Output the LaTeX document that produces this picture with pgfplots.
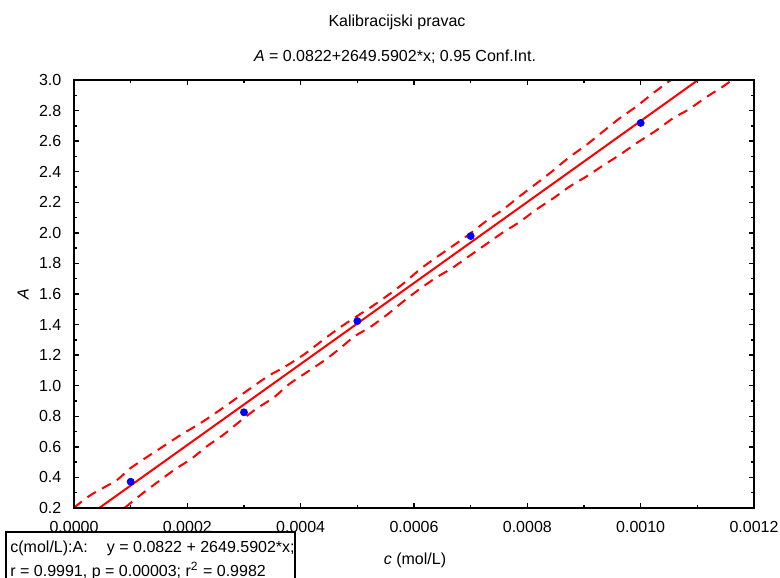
\documentclass[border=0pt]{standalone}
\usepackage{fontspec}
\setmainfont{Liberation Sans}
\usepackage{pgfplots}
\pgfplotsset{compat=1.18}
\begin{document}
\begin{tikzpicture}[font=\fontsize{8}{9.6}\selectfont]
\useasboundingbox (0,0) rectangle (390pt,288.5pt);
\begin{axis}[
  at={(37pt,34.5pt)}, anchor=south west,
  width=340pt, height=214pt, scale only axis,
  xmin=0, xmax=0.0012, ymin=0.2, ymax=3.0,
  xtick={0,0.0002,0.0004,0.0006,0.0008,0.0010,0.0012},
  ytick={0.2,0.4,0.6,0.8,1.0,1.2,1.4,1.6,1.8,2.0,2.2,2.4,2.6,2.8,3.0},
  minor x tick num=1, minor y tick num=1,
  tick align=inside, tick pos=both,
  xticklabel pos=left, yticklabel pos=left,
  major tick length=2.4pt, minor tick length=1.3pt,
  axis line style={line width=1pt, black},
  every tick/.style={black, line width=0.7pt},
  scaled x ticks=false, scaled y ticks=false,
  tick label style={font=\fontsize{8}{9.6}\selectfont},
  x tick label style={/pgf/number format/.cd, fixed, fixed zerofill, precision=4, assume math mode=true, /tikz/.cd, yshift=-3.3pt},
  y tick label style={/pgf/number format/.cd, fixed, fixed zerofill, precision=1, assume math mode=true, /tikz/.cd, xshift=-2.8pt},
]
% regression line
\addplot[red, line width=1pt] coordinates {(4.446e-5,0.2) (1.1012e-3,3.0)};
% upper 0.95 confidence band
\addplot[red, line width=1pt, dash pattern=on 5pt off 3.5pt, smooth, tension=0.4] coordinates {
(0,0.202) (2.947e-5,0.285) (7.588e-5,0.3832) (1.0006e-4,0.4617) (1.530e-4,0.5925)
(1.883e-4,0.6776) (2.236e-4,0.7561) (2.524e-4,0.828) (2.824e-4,0.9065) (3.141e-4,0.990)
(3.429e-4,1.0636) (3.724e-4,1.1244) (4.046e-4,1.2009) (4.341e-4,1.284) (4.606e-4,1.3579)
(4.888e-4,1.4299) (5.236e-4,1.513) (5.546e-4,1.5935) (5.824e-4,1.672) (6.106e-4,1.7616)
(6.371e-4,1.8335) (6.665e-4,1.9094) (6.958e-4,1.986) (7.283e-4,2.0795) (7.576e-4,2.1541)
(7.871e-4,2.2411) (8.165e-4,2.3242) (8.43e-4,2.4001) (8.723e-4,2.4897) (9.047e-4,2.5767)
(9.341e-4,2.6644) (9.635e-4,2.7514) (9.93e-4,2.8279) (1.0223e-3,2.915) (1.0535e-3,3.0)};
% lower 0.95 confidence band
\addplot[red, line width=1pt, dash pattern=on 5pt off 3.5pt, smooth, tension=0.4] coordinates {
(8.91e-5,0.2) (1.2353e-4,0.3027) (1.7647e-4,0.4486) (2.0594e-4,0.5186) (2.3524e-4,0.6056)
(2.6471e-4,0.6821) (2.9418e-4,0.7711) (3.212e-4,0.8477) (3.5294e-4,0.9242) (3.7994e-4,1.0112)
(4.1065e-4,1.0878) (4.4118e-4,1.1636) (4.6818e-4,1.2402) (4.9412e-4,1.3207) (5.2359e-4,1.3861)
(5.5182e-4,1.4626) (5.806e-4,1.5496) (6.0759e-4,1.6262) (6.3706e-4,1.7027) (6.6653e-4,1.7681)
(6.9582e-4,1.844) (7.2529e-4,1.9206) (7.5476e-4,1.9971) (7.8706e-4,2.073) (8.1653e-4,2.1541)
(8.4582e-4,2.2261) (8.735e-4,2.3) (9.0476e-4,2.37) (9.3406e-4,2.442) (9.6353e-4,2.5113)
(9.93e-4,2.5878) (1.02529e-3,2.6644) (1.05759e-3,2.7514) (1.08406e-3,2.8057) (1.11353e-3,2.8822)
(1.14582e-3,2.9588) (1.16118e-3,3.0)};
% data points
\addplot[only marks, mark=*, mark size=1.75pt, color=blue, mark options={fill=blue, draw=blue}] coordinates {
(0.0001,0.372) (0.0003,0.826) (0.0005,1.423) (0.0007,1.979) (0.0010,2.719)};
\draw[line width=1pt, black] (rel axis cs:0,0) rectangle (rel axis cs:1,1);
\end{axis}
% titles
\node[anchor=base] at (198.5pt,275.15pt) {Kalibracijski pravac};
\node[anchor=base] at (197.5pt,257.65pt) {\textit{A} = 0.0822+2649.5902*x; 0.95 Conf.Int.};
% axis labels
\node[rotate=90] at (11.5pt,141.5pt) {\textit{A}};
\node[anchor=base] at (207.5pt,6pt) {\textit{c} (mol/L)};
% statistics box
\draw[line width=1pt, fill=white] (3pt,-2pt) rectangle (147.5pt,22.65pt);
\node[anchor=base west, inner sep=0] at (5pt,12.15pt) {c(mol/L):A:\hspace{1.2em}y = 0.0822 + 2649.5902*x;};
\node[anchor=base west, inner sep=0] at (5pt,0.3pt) {r = 0.9991, p = 0.00003; r\textsuperscript{2} = 0.9982};
\end{tikzpicture}
\end{document}
